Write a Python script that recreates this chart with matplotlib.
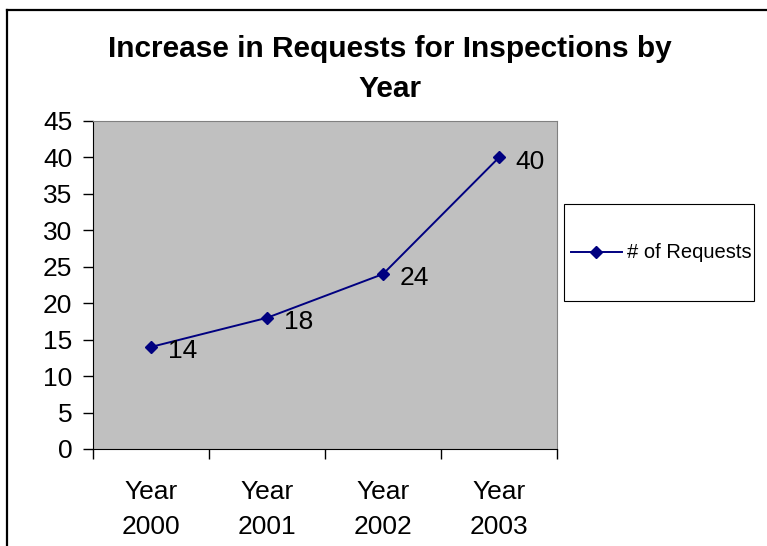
import matplotlib.pyplot as plt
from matplotlib.lines import Line2D
from matplotlib.patches import Rectangle

years = ["Year\n2000", "Year\n2001", "Year\n2002", "Year\n2003"]
requests = [14, 18, 24, 40]
y_ticks = [0, 5, 10, 15, 20, 25, 30, 35, 40, 45]
series_name = "# of Requests"

W, H = 767, 546
NAVY = '#000080'
plt.rcParams['font.family'] = ['Liberation Sans', 'DejaVu Sans']

fig = plt.figure(figsize=(W / 100, H / 100), dpi=100)
fig.patch.set_facecolor('white')


def fx(px):
    return px / W


def fy(py):
    return 1 - py / H


# chart frame (only the top and left edges fall inside the canvas)
fig.add_artist(Line2D([fx(7), fx(7)], [0, fy(10)], color='black', lw=1.6,
                      transform=fig.transFigure))
fig.add_artist(Line2D([fx(7), 1], [fy(10), fy(10)], color='black', lw=1.6,
                      transform=fig.transFigure))

left, right, top, bottom = 93, 557, 121, 449
ax = fig.add_axes([fx(left), fy(bottom), (right - left) / W, (bottom - top) / H])
ax.set_facecolor('#C0C0C0')

x = [i + 0.5 for i in range(len(years))]
ax.plot(x, requests, color=NAVY, lw=1.4, marker='D', markersize=6.5)
for xi, v in zip(x, requests):
    ax.annotate(str(v), (xi, v), xytext=(12, -3), textcoords='offset points',
                va='center', ha='left', fontsize=19)

ax.set_xlim(0, len(years))
ax.set_ylim(0, 45)
ax.set_yticks(y_ticks)
ax.tick_params(axis='y', labelsize=19, length=7, width=1, direction='out', pad=8)

ax.set_xticks(range(len(years) + 1))
ax.set_xticklabels([])
ax.set_xticks(x, minor=True)
ax.set_xticklabels(years, minor=True, fontsize=19, linespacing=1.6)
ax.tick_params(axis='x', which='major', length=7, width=1, direction='out')
ax.tick_params(axis='x', which='minor', length=0, pad=22)

for side in ('top', 'right'):
    ax.spines[side].set_color('#808080')
ax.spines['left'].set_color('black')
ax.spines['bottom'].set_color('black')

fig.text(fx(390), fy(69), "Increase in Requests for Inspections by\nYear",
         ha='center', va='center', fontsize=21.5, fontweight='bold', linespacing=1.55)

# legend box
fig.add_artist(Rectangle((fx(564), fy(301)), fx(754) - fx(564), fy(204) - fy(301),
                         transform=fig.transFigure, facecolor='white',
                         edgecolor='black', lw=0.8))
ly = fy(252)
fig.add_artist(Line2D([fx(571), fx(622)], [ly, ly], color=NAVY, lw=1.4,
                      transform=fig.transFigure))
fig.add_artist(Line2D([fx(596)], [ly], color=NAVY, marker='D', markersize=6.5,
                      transform=fig.transFigure))
fig.text(fx(627), ly, series_name, ha='left', va='center', fontsize=14.5)

fig.savefig('out.png', dpi=100)
